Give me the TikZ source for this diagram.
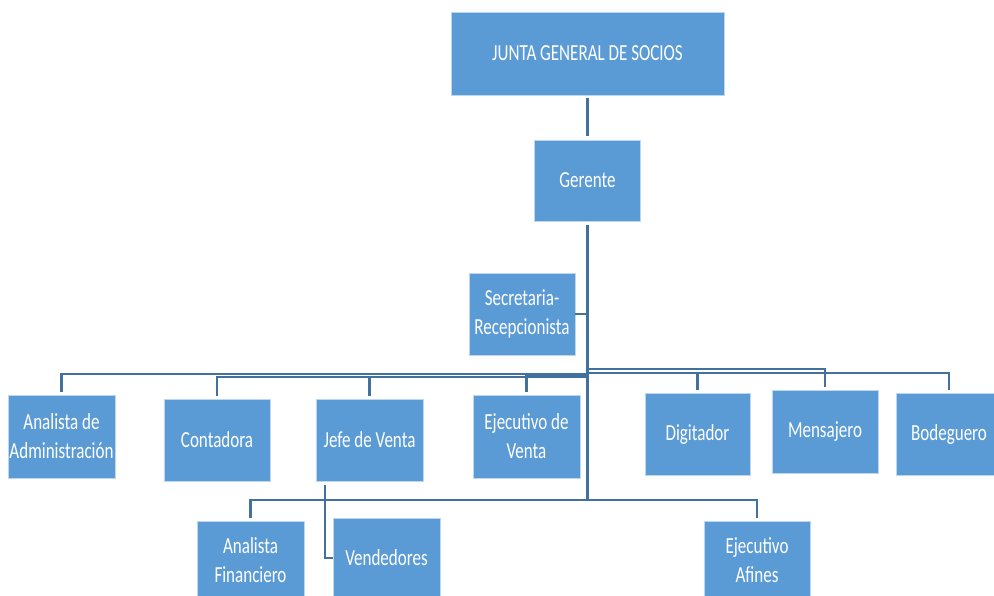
\documentclass[tikz,border=0pt]{standalone}
\usepackage{fontspec}
\setmainfont[FakeStretch=0.74]{Carlito}
\definecolor{boxblue}{HTML}{5B9BD5}
\definecolor{boxedge}{HTML}{BDD7EE}
\definecolor{linecol}{HTML}{41719C}
\begin{document}
\begin{tikzpicture}[x=1pt,y=-1pt,
  unit/.style={draw=boxedge, line width=0.8pt, fill=boxblue, text=white, inner sep=0pt,
    align=center, font=\fontsize{23}{29}\selectfont, minimum width=106pt, minimum height=82pt},
  conn/.style={draw=linecol, line width=2.4pt}]
\clip (0,0) rectangle (994,595);
\fill[white] (0,0) rectangle (994,595);
\node[unit, minimum width=273pt, minimum height=83pt] (junta) at (587.5,53.5) {JUNTA GENERAL DE SOCIOS};
\node[unit, minimum height=81pt] (ger) at (587.5,180.5) {Gerente};
\node[unit] (sec) at (522,314) {Secretaria-\\Recepcionista};
\node[unit, minimum width=107pt, minimum height=83pt] (aa) at (61.5,436.5) {Analista de\\Administración};
\node[unit] (con) at (217,440) {Contadora};
\node[unit, minimum width=107pt] (jv) at (369.5,440) {Jefe de Venta};
\node[unit, minimum width=107pt, minimum height=83pt] (ev) at (526.5,436.5) {Ejecutivo de\\Venta};
\node[unit, minimum width=105pt] (dig) at (697.5,434) {Digitador};
\node[unit, minimum height=83pt] (men) at (825,431.5) {Mensajero};
\node[unit] (bod) at (949,434) {Bodeguero};
\node[unit, minimum width=107pt, minimum height=79pt] (af) at (250.5,560.5) {Analista\\Financiero};
\node[unit, minimum width=107pt, minimum height=80pt] (ven) at (386.5,558) {Vendedores};
\node[unit, minimum height=79pt] (ea) at (757,560.5) {Ejecutivo\\Afines};

\draw[conn, shorten <=3pt, shorten >=4pt] (junta.south) -- (ger.north);
\coordinate (tbot) at (587.5,500);
\draw[conn, shorten <=4pt] (ger.south) -- (tbot);
\draw[conn] (sec.east) -- (sec.east -| ger.south);

\coordinate (b1) at (587.5,374);
\coordinate (b2) at (587.5,377);
\coordinate (b3) at (587.5,375);
\coordinate (b4) at (587.5,373);
\coordinate (b5) at (587.5,369);
\draw[conn, shorten >=3pt] (b1) -| (aa.north);
\draw[conn, shorten >=3pt] (b2) -| (con.north);
\draw[conn, shorten >=3pt] (b2) -| (jv.north);
\draw[conn, shorten >=3pt] (b3) -| (ev.north);
\draw[conn, shorten >=3pt] (b4) -| (dig.north);
\draw[conn, shorten >=3pt] (b5) -| (men.north);
\draw[conn, shorten >=3pt] (b4) -| (bod.north);

\draw[conn, shorten >=3pt] (tbot) -| (af.north);
\draw[conn, shorten >=3pt] (tbot) -| (ea.north);

\coordinate (jvv) at (325,485);
\draw[conn] (jvv) |- (ven.west);
\end{tikzpicture}
\end{document}
